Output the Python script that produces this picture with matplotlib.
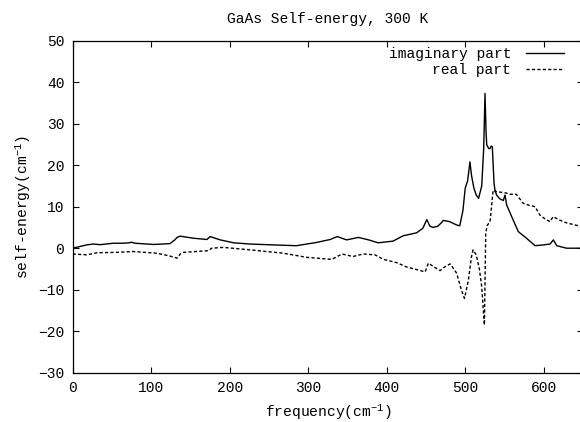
import matplotlib
matplotlib.use("Agg")
import matplotlib.pyplot as plt

# imaginary part (solid)
freq_im = [0, 9, 18, 26, 35, 52, 64, 72, 75, 79, 103, 124, 130, 133, 137, 154, 171, 175,
           188, 205, 226, 255, 285, 311, 328, 337, 349, 364, 377, 389, 408, 421, 438, 446,
           451, 455, 459, 465, 470, 472, 480, 489, 493, 497, 500, 503, 506, 508, 511, 514,
           517, 521, 523.5, 525.2, 526.5, 527.4, 530, 531.6, 533, 534.5, 536.7, 538, 540,
           544, 548.5, 550.7, 552.8, 561, 567.6, 578, 589, 599.6, 608, 612.3, 616.6, 629,
           650]
imag = [0.0, 0.4, 0.8, 1.0, 0.85, 1.2, 1.2, 1.3, 1.45, 1.2, 0.9, 1.1, 2.0, 2.6, 2.9, 2.4,
        2.1, 2.8, 2.0, 1.3, 1.0, 0.8, 0.6, 1.4, 2.1, 2.8, 2.0, 2.6, 2.0, 1.3, 1.7, 3.0, 3.7,
        4.8, 6.9, 5.3, 5.0, 5.3, 6.2, 6.7, 6.4, 5.6, 5.4, 9.0, 14.5, 16.2, 20.8, 17.5, 14.5,
        12.8, 12.0, 15.0, 24.0, 37.3, 28.0, 24.9, 24.0, 24.0, 24.6, 24.5, 15.6, 13.8, 12.8,
        11.9, 11.5, 12.8, 10.4, 6.8, 4.0, 2.4, 0.6, 0.8, 1.0, 2.0, 0.6, 0.0, 0.0]

# real part (dashed)
freq_re = [0, 18, 31, 56, 77, 107, 124, 133, 137, 141, 173, 177, 192, 226, 268, 298, 330,
           343, 357, 370, 385, 396, 413, 425, 449, 453, 460, 468, 476, 481, 489, 495, 499,
           504, 508, 510, 514, 518, 521, 524.4, 526.1, 528, 531.6, 533.5, 535.5, 540, 545,
           552, 557, 565, 574, 582, 589, 595, 602, 608, 612, 620, 629, 640, 650]
real = [-1.4, -1.6, -1.1, -1.0, -0.8, -1.2, -1.9, -2.4, -1.4, -1.0, -0.6, 0.0, 0.2, -0.4,
        -1.2, -2.2, -2.7, -1.4, -2.0, -1.4, -1.6, -2.7, -3.5, -4.5, -5.7, -3.6, -4.5, -5.4,
        -4.2, -3.8, -6.0, -10.0, -12.1, -7.7, -2.0, -0.4, -1.6, -5.0, -9.3, -18.5, 3.6, 5.5,
        6.4, 10.0, 14.0, 13.6, 13.5, 13.3, 13.0, 13.0, 10.8, 10.3, 10.0, 8.0, 7.0, 6.4, 7.6,
        6.8, 6.1, 5.6, 5.1]

xticks = [0, 100, 200, 300, 400, 500, 600]
yticks = [-30, -20, -10, 0, 10, 20, 30, 40, 50]

plt.rcParams['font.family'] = ['Liberation Mono', 'DejaVu Sans Mono']
plt.rcParams['mathtext.fontset'] = 'custom'
plt.rcParams['mathtext.rm'] = 'Liberation Mono'
plt.rcParams['mathtext.default'] = 'regular'

fig = plt.figure(figsize=(5.8, 4.22), dpi=100)
ax = fig.add_axes([72.7 / 580, 49.3 / 422, 510.3 / 580, 332.0 / 422])

ax.plot(freq_im, imag, color='black', lw=1.0, label='imaginary part')
ax.plot(freq_re, real, color='black', lw=1.0, dashes=(2.3, 1.6), label='real part')

ax.set_xlim(0, 650)
ax.set_ylim(-30, 50)
ax.set_xticks(xticks)
ax.set_yticks(yticks)
ax.tick_params(direction='in', length=4.5, width=0.8, top=True, right=True,
               labelsize=10.5, pad=6, colors='black')
for s in ax.spines.values():
    s.set_linewidth(0.9)

ax.set_title('GaAs Self-energy, 300 K', fontsize=10.5, pad=13)
ax.set_xlabel('frequency(cm$^{-1}$)', fontsize=10.5, labelpad=5)
ax.set_ylabel('self-energy(cm$^{-1}$)', fontsize=10.5, labelpad=4)

ax.legend(loc='upper right', bbox_to_anchor=(0.985, 1.015), frameon=False,
          markerfirst=False, fontsize=10.5, handlelength=2.6, handletextpad=1.0,
          labelspacing=0.1, borderpad=0.3)

fig.savefig('out.png', dpi=100)
